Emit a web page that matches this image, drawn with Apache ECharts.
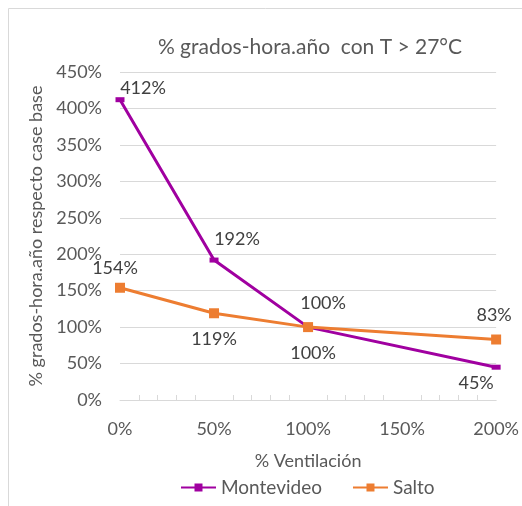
<!DOCTYPE html>
<html>
<head>
<meta charset="utf-8">
<script src="https://cdn.jsdelivr.net/npm/echarts@6/dist/echarts.min.js"></script>
<style>
    html, body {margin: 0; padding: 0; background: #fff;}
    #chart {width: 522px; height: 506px;}
</style>
</head>
<body>
<div id="chart"></div>
<script>
// ventilación (%) y resultados (% respecto caso base)
const ventilacion = [0, 50, 100, 200];
const montevideo = [412, 192, 100, 45];
const salto = [154, 119, 100, 83];
const xTicks = [0, 50, 100, 150, 200];

// posición de las etiquetas de cada punto (desplazamiento desde el marcador)
const offMontevideo = [[23, -12], [23, -21], [15, -24], [-20, 16]];
const offSalto = [[-5, -20], [0, 26], [5, 26], [-2, -24]];

const FONT = 'Lato';
const GRAY = '#595959';

function buildData(vals, offs) {
    return vals.map((v, i) => ({
        value: [ventilacion[i], v],
        label: {offset: offs[i]}
    }));
}

let chart = echarts.init(document.getElementById('chart'));
let option = {
    animation: false,
    textStyle: {fontFamily: FONT},
    graphic: [{
        type: 'rect',
        shape: {x: 8.5, y: 8.5, width: 530, height: 520},
        style: {fill: 'none', stroke: '#d9d9d9', lineWidth: 1},
        silent: true
    }],
    title: {
        text: '% grados-hora.año  con T > 27°C',
        left: 305,
        textAlign: 'center',
        top: 32,
        textStyle: {fontFamily: FONT, fontSize: 21, fontWeight: 'normal', color: GRAY}
    },
    legend: {
        bottom: 4,
        left: 175,
        itemWidth: 35,
        itemHeight: 10,
        itemGap: 30,
        textStyle: {fontFamily: FONT, fontSize: 19, color: GRAY},
        data: ['Montevideo', 'Salto']
    },
    grid: {left: 120, right: 24, top: 72, bottom: 106},
    xAxis: {
        type: 'value',
        min: 0,
        max: 200,
        interval: 50,
        name: '% Ventilación',
        nameLocation: 'middle',
        nameGap: 52,
        nameTextStyle: {fontFamily: FONT, fontSize: 18, color: GRAY},
        axisLine: {show: true, lineStyle: {color: '#d9d9d9'}},
        axisTick: {show: false, inside: true},
        minorTick: {show: true, splitNumber: 5, length: 5, lineStyle: {color: '#d9d9d9'}},
        splitLine: {show: false},
        axisLabel: {
            fontFamily: FONT, fontSize: 18, color: GRAY, margin: 20,
            formatter: v => xTicks.includes(v) ? v + '%' : ''
        }
    },
    yAxis: {
        type: 'value',
        min: 0,
        max: 450,
        interval: 50,
        name: '% grados-hora.año respecto case base',
        nameLocation: 'middle',
        nameGap: 74,
        nameTextStyle: {fontFamily: FONT, fontSize: 18, color: GRAY},
        axisLine: {show: false},
        axisTick: {show: false},
        splitLine: {lineStyle: {color: '#d9d9d9'}},
        axisLabel: {fontFamily: FONT, fontSize: 18, color: GRAY, margin: 18, formatter: '{value}%'}
    },
    series: [
        {
            name: 'Montevideo',
            type: 'line',
            data: buildData(montevideo, offMontevideo),
            symbol: 'rect',
            symbolSize: [9, 5],
            lineStyle: {color: '#a000a0', width: 3},
            itemStyle: {color: '#a000a0'},
            label: {
                show: true, position: 'inside',
                fontFamily: FONT, fontSize: 18, color: '#404040',
                formatter: p => p.value[1] + '%'
            },
            z: 3
        },
        {
            name: 'Salto',
            type: 'line',
            data: buildData(salto, offSalto),
            symbol: 'rect',
            symbolSize: 10,
            lineStyle: {color: '#ed7d31', width: 3},
            itemStyle: {color: '#ed7d31'},
            label: {
                show: true, position: 'inside',
                fontFamily: FONT, fontSize: 18, color: '#404040',
                formatter: p => p.value[1] + '%'
            },
            z: 4
        }
    ]
};
chart.setOption(option);
</script>
</body>
</html>
